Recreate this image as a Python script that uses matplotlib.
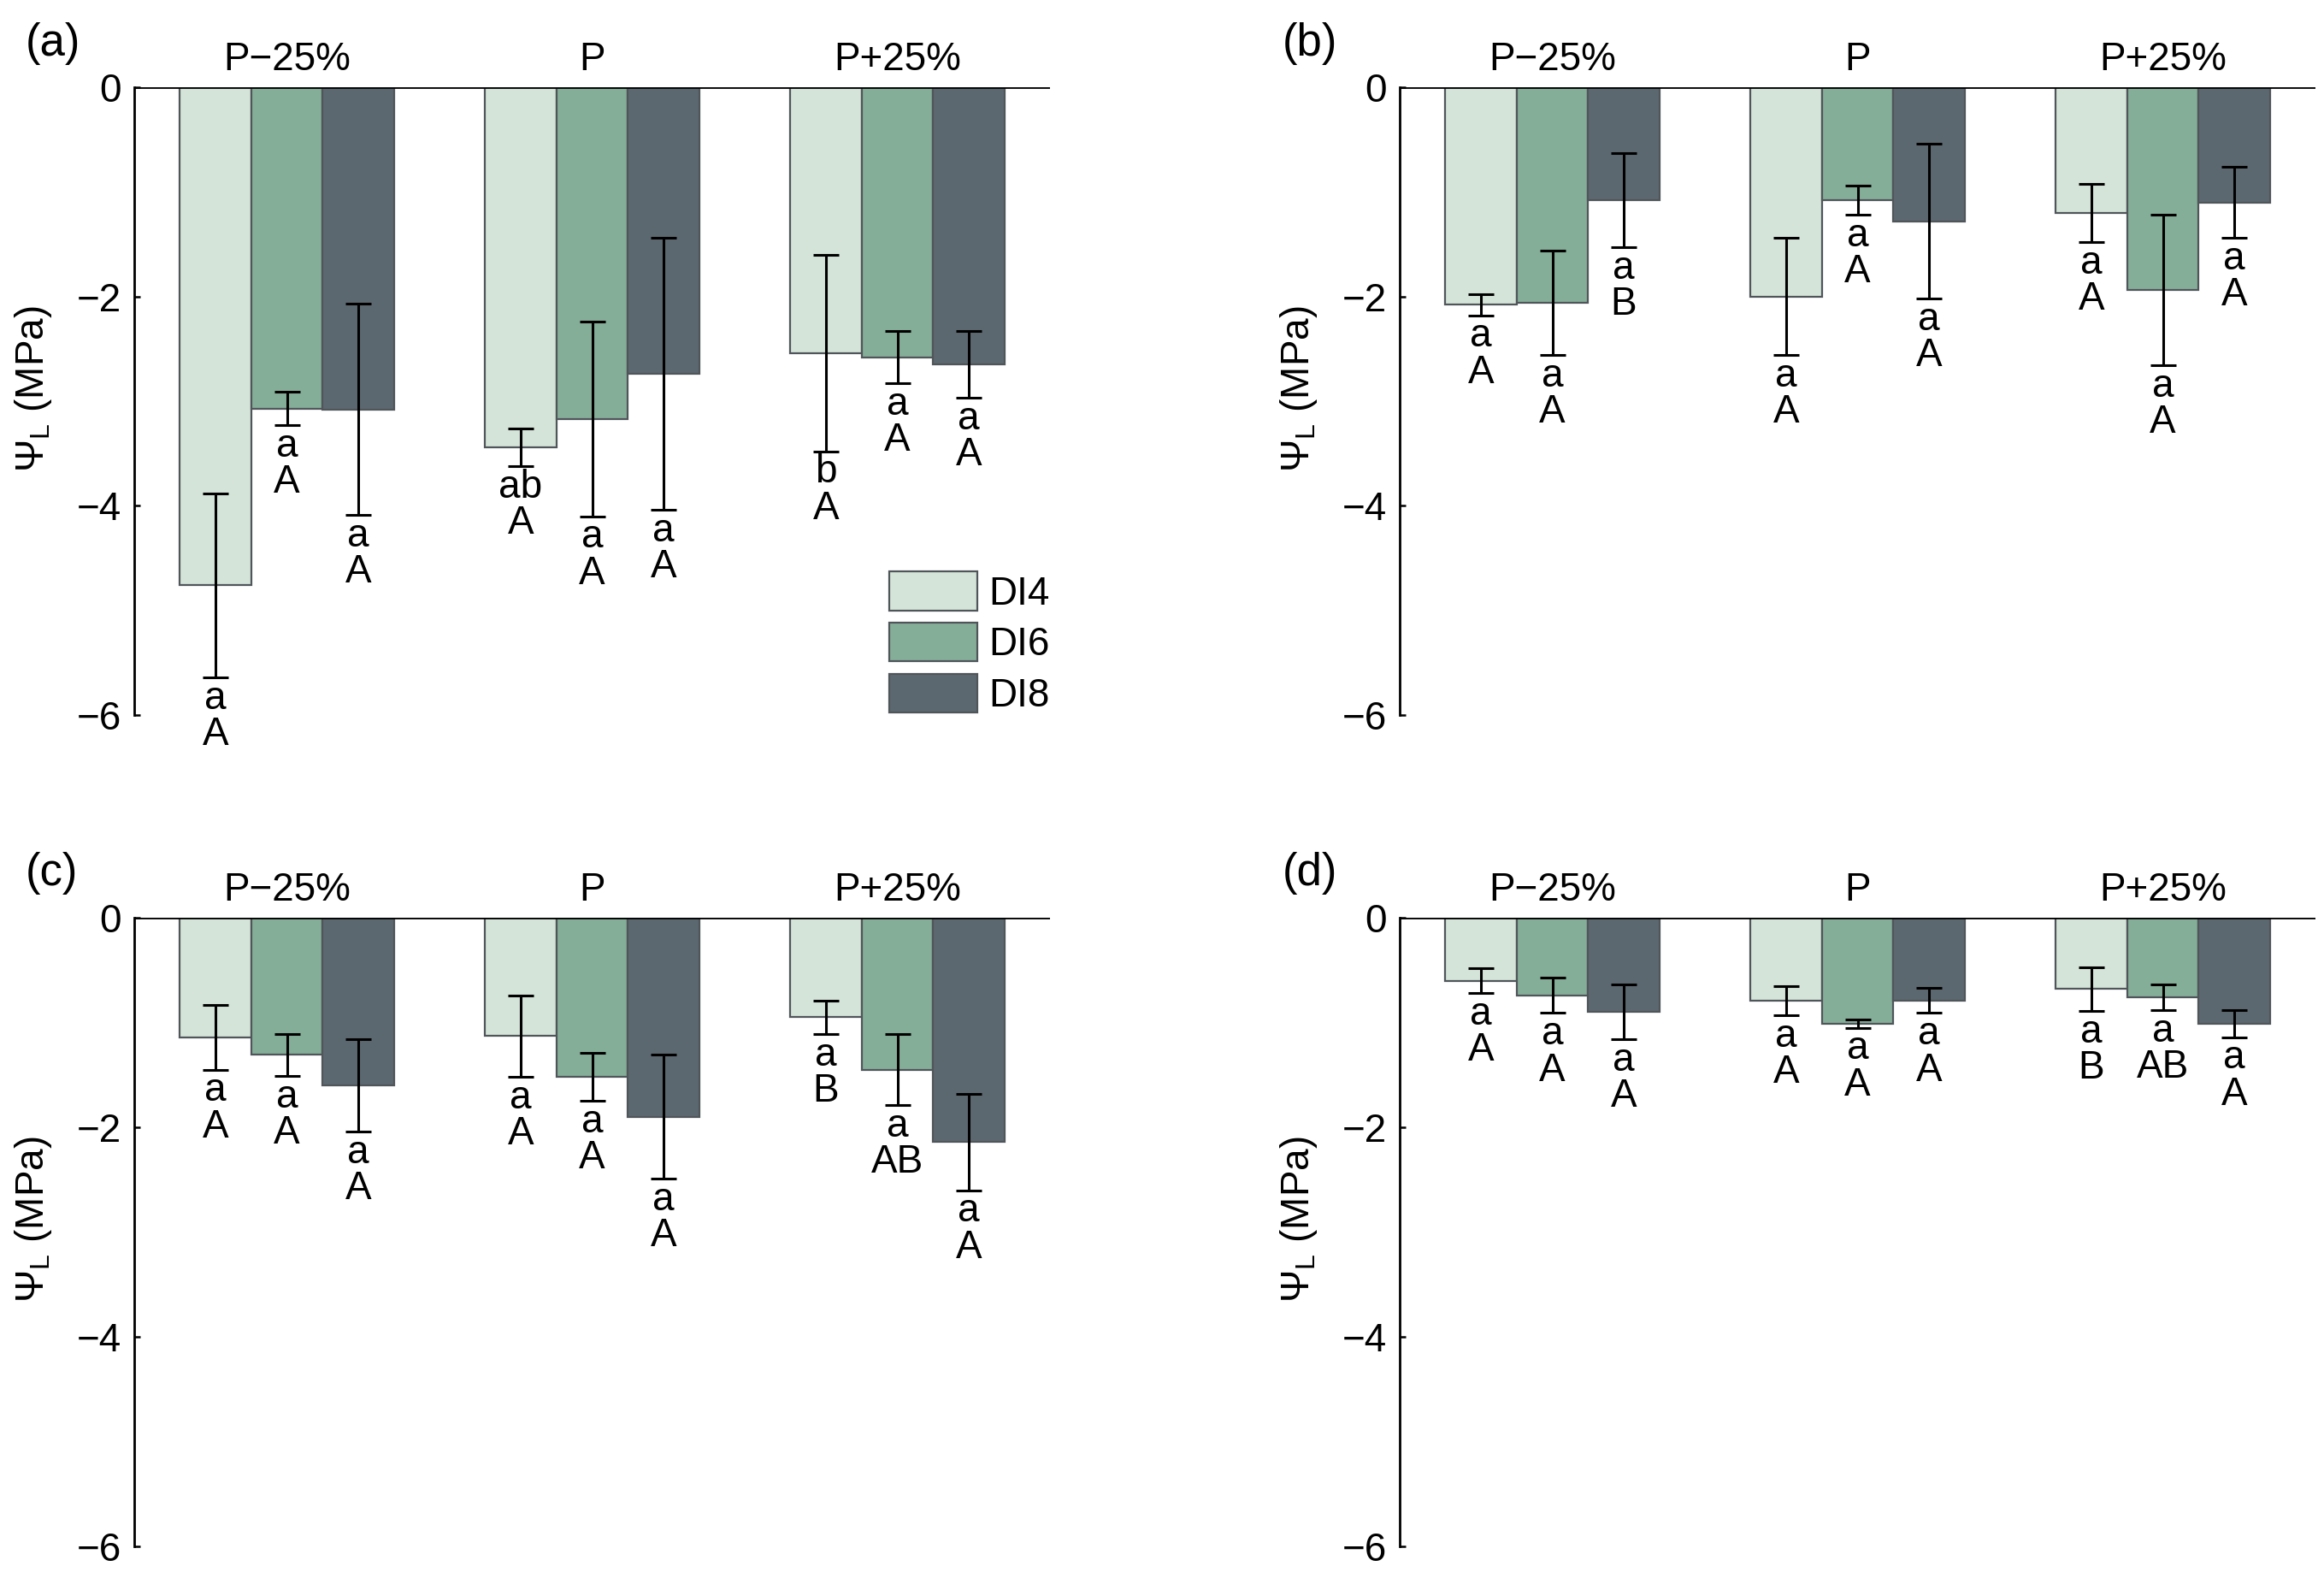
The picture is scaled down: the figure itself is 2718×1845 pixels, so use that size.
import matplotlib
matplotlib.use("Agg")
import matplotlib.pyplot as plt
import numpy as np
from matplotlib.patches import Patch

plt.rcParams['font.family'] = ['Liberation Sans', 'DejaVu Sans']
plt.rcParams['mathtext.fontset'] = 'custom'
plt.rcParams['mathtext.rm'] = 'Liberation Sans'
plt.rcParams['mathtext.it'] = 'Liberation Sans:italic'
plt.rcParams['mathtext.bf'] = 'Liberation Sans:bold'

groups = ['P\u221225%', 'P', 'P+25%']
treatments = ['DI4', 'DI6', 'DI8']
colors = ['#d4e4d8', '#84ae98', '#5c6870']

# panel (a)
a_vals = [[-4.76, -3.07, -3.08], [-3.44, -3.17, -2.74], [-2.54, -2.58, -2.65]]
a_errs = [[0.88, 0.16, 1.01], [0.18, 0.93, 1.30], [0.94, 0.25, 0.32]]
a_lets = [['a\nA', 'a\nA', 'a\nA'], ['ab\nA', 'a\nA', 'a\nA'], ['b\nA', 'a\nA', 'a\nA']]
# panel (b)
b_vals = [[-2.08, -2.06, -1.08], [-2.00, -1.08, -1.28], [-1.20, -1.94, -1.10]]
b_errs = [[0.10, 0.50, 0.45], [0.56, 0.14, 0.74], [0.28, 0.72, 0.34]]
b_lets = [['a\nA', 'a\nA', 'a\nB'], ['a\nA', 'a\nA', 'a\nA'], ['a\nA', 'a\nA', 'a\nA']]
# panel (c)
c_vals = [[-1.14, -1.31, -1.60], [-1.13, -1.52, -1.90], [-0.95, -1.45, -2.14]]
c_errs = [[0.31, 0.20, 0.44], [0.39, 0.23, 0.59], [0.16, 0.34, 0.46]]
c_lets = [['a\nA', 'a\nA', 'a\nA'], ['a\nA', 'a\nA', 'a\nA'], ['a\nB', 'a\nAB', 'a\nA']]
# panel (d)
d_vals = [[-0.60, -0.74, -0.90], [-0.79, -1.01, -0.79], [-0.68, -0.76, -1.01]]
d_errs = [[0.12, 0.17, 0.26], [0.14, 0.04, 0.12], [0.21, 0.12, 0.13]]
d_lets = [['a\nA', 'a\nA', 'a\nA'], ['a\nA', 'a\nA', 'a\nA'], ['a\nB', 'a\nAB', 'a\nA']]

yticks = [0, -2, -4, -6]
panel_labels = ['(a)', '(b)', '(c)', '(d)']

FS = 33
W = 2718
H = 1845
fig = plt.figure(figsize=(W / 100, H / 100), dpi=100)

ax_w = 1071 / W
rects = [
    (157 / W, 1 - 836 / H, ax_w, 734 / H),
    (1637 / W, 1 - 836 / H, ax_w, 734 / H),
    (157 / W, 1 - 1808 / H, ax_w, 735 / H),
    (1637 / W, 1 - 1808 / H, ax_w, 735 / H),
]
label_pos = [(30 / W, 1 - 26 / H), (1500 / W, 1 - 26 / H),
             (30 / W, 1 - 996 / H), (1500 / W, 1 - 996 / H)]

datasets = [(a_vals, a_errs, a_lets), (b_vals, b_errs, b_lets),
            (c_vals, c_errs, c_lets), (d_vals, d_errs, d_lets)]

bw = 0.234
x = np.arange(len(groups))

for i, (vals, errs, lets) in enumerate(datasets):
    ax = fig.add_axes(rects[i])
    vals = np.array(vals)
    errs = np.array(errs)
    for j in range(len(treatments)):
        xs = x + (j - 1) * bw
        ax.bar(xs, vals[:, j], width=bw, color=colors[j], edgecolor='#50555a',
               linewidth=1.6, zorder=2, label=treatments[j])
        ax.errorbar(xs, vals[:, j], yerr=errs[:, j], fmt='none', ecolor='black',
                    elinewidth=2.2, capsize=10.5, capthick=2.2, zorder=3)
        for k in range(len(groups)):
            ax.annotate(lets[k][j], (xs[k], vals[k, j] - errs[k, j]),
                        xytext=(0, -2), textcoords='offset points',
                        ha='center', va='top', fontsize=FS, linespacing=0.95,
                        zorder=4)
    ax.axhline(0, color='black', linewidth=2.0, zorder=5)
    ax.set_xlim(-0.5, 2.5)
    ax.set_ylim(-6, 0)
    ax.set_yticks(yticks)
    ax.set_yticklabels(['0', '\u22122', '\u22124', '\u22126'])
    ax.tick_params(axis='y', direction='in', length=5, width=1.8, pad=11,
                   labelsize=FS)
    ax.set_xticks([])
    for s in ['top', 'right', 'bottom']:
        ax.spines[s].set_visible(False)
    ax.spines['left'].set_linewidth(2.0)
    ax.spines['left'].set_zorder(6)
    for k, g in enumerate(groups):
        ax.text(x[k], 1.027, g, transform=ax.get_xaxis_transform(),
                ha='center', va='baseline', fontsize=FS)
    ax.set_ylabel(r'$\Psi_{\mathrm{L}}$ (MPa)', fontsize=FS)
    ax.yaxis.set_label_coords(-0.088, 0.52)
    fig.text(label_pos[i][0], label_pos[i][1], panel_labels[i], fontsize=38,
             ha='left', va='top')
    if i == 0:
        handles = [Patch(facecolor=colors[j], edgecolor='#50555a', linewidth=1.6)
                   for j in range(len(treatments))]
        ax.legend(handles, treatments, loc='lower right', bbox_to_anchor=(1.0, 0.0),
                  frameon=False, fontsize=FS, handlelength=2.25, handleheight=1.15,
                  handletextpad=0.3, labelspacing=0.25, borderpad=0,
                  borderaxespad=0)

fig.savefig('out.png', dpi=100, facecolor='white')
